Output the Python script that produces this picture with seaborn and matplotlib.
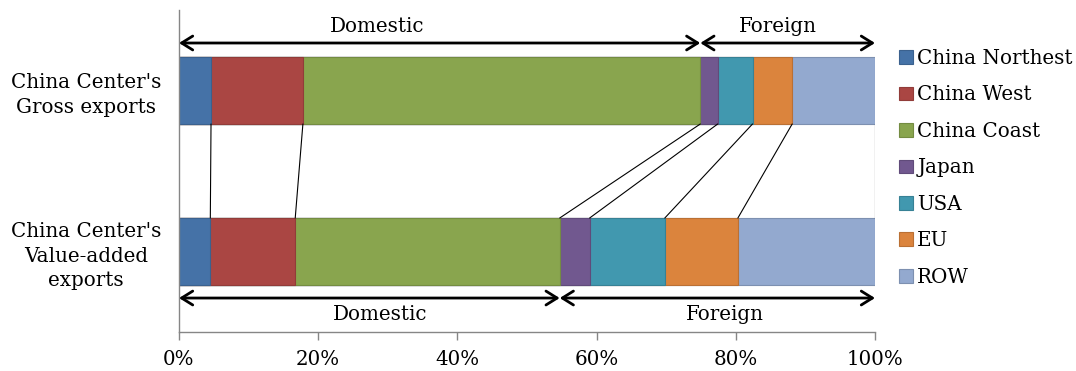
import matplotlib
matplotlib.use("Agg")
import matplotlib.pyplot as plt
import seaborn as sns
import pandas as pd
import numpy as np
from matplotlib.patches import Patch
from matplotlib.colors import to_rgb

categories = ["China Center's\nGross exports", "China Center's\nValue-added\nexports"]
series = ["China Northest", "China West", "China Coast", "Japan", "USA", "EU", "ROW"]
gross = [4.6, 13.2, 57.1, 2.5, 5.0, 5.7, 11.9]
value_added = [4.5, 12.2, 38.0, 4.3, 10.8, 10.5, 19.7]
colors = ["#4572A7", "#AA4643", "#89A54E", "#71588F", "#4198AF", "#DB843D", "#93A9CF"]
domestic_n = 3  # first three series are domestic
xticks = [0, 20, 40, 60, 80, 100]

sns.set_theme(style="white")
plt.rcParams["font.family"] = ["DejaVu Serif"]
plt.rcParams["text.color"] = "black"
plt.rcParams["xtick.labelcolor"] = "black"
plt.rcParams["ytick.labelcolor"] = "black"
FS = 14.3

fig = plt.figure(figsize=(10.76, 3.71), dpi=100)
ax = fig.add_axes([179/1076, 1 - 332/371, (875-179)/1076, 322/371])

cum_g = np.cumsum(gross)
cum_v = np.cumsum(value_added)

def darker(c, f=0.85):
    r, g, b = to_rgb(c)
    return (r*f, g*f, b*f)

H = 0.416
for i in reversed(range(len(series))):
    df = pd.DataFrame({"cat": categories, "val": [cum_g[i], cum_v[i]]})
    sns.barplot(data=df, x="val", y="cat", orient="h", color=colors[i],
                width=H, edgecolor=darker(colors[i]), linewidth=0.8,
                saturation=1, ax=ax)

ax.set_xlim(0, 100)
ax.set_ylim(1.5, -0.5)
ax.set_xlabel("")
ax.set_ylabel("")
ax.set_xticks(xticks)
ax.set_xticklabels([f"{t}%" for t in xticks], fontsize=FS, color="black")
for lab in ax.get_yticklabels():
    lab.set_multialignment("center")
    lab.set_horizontalalignment("center")
    lab.set_fontsize(FS)
    lab.set_linespacing(1.35)
    lab.set_color("black")
ax.tick_params(axis="y", length=0, pad=67)
ax.tick_params(axis="x", length=6, width=1, color="#868686", direction="out", pad=7)
ax.tick_params(axis="x", bottom=True)
for s in ["top", "right"]:
    ax.spines[s].set_visible(False)
for s in ["left", "bottom"]:
    ax.spines[s].set_color("#868686")
    ax.spines[s].set_linewidth(1)

# connector lines
y_top = 0 + H/2
y_bot = 1 - H/2
for a, b in zip(cum_g, cum_v):
    ax.plot([a, b], [y_top, y_bot], color="black", lw=0.8, zorder=1)

# arrows
def arrow(x0, x1, y):
    ax.annotate("", xy=(x1, y), xytext=(x0, y),
                arrowprops=dict(arrowstyle="<->,head_length=0.8,head_width=0.5",
                                lw=2, color="black", shrinkA=0, shrinkB=0,
                                mutation_scale=10),
                annotation_clip=False)

dg = cum_g[domestic_n-1]
dv = cum_v[domestic_n-1]
arrow(0, dg, -0.295)
arrow(dg, 100, -0.295)
arrow(0, dv, 1.289)
arrow(dv, 100, 1.289)
ax.text(28.5, -0.40, "Domestic", ha="center", va="center", fontsize=FS, color="black")
ax.text(86.0, -0.40, "Foreign", ha="center", va="center", fontsize=FS, color="black")
ax.text(28.9, 1.394, "Domestic", ha="center", va="center", fontsize=FS, color="black")
ax.text(78.4, 1.394, "Foreign", ha="center", va="center", fontsize=FS, color="black")

handles = [Patch(facecolor=c, edgecolor=darker(c), linewidth=0.8) for c in colors]
leg = fig.legend(handles, series, loc="upper left", bbox_to_anchor=(899/1076, 1 - 49/371),
                 frameon=False, fontsize=FS, handlelength=0.7, handleheight=0.7,
                 handletextpad=0.22, labelspacing=0.88, borderaxespad=0, borderpad=0)
for t in leg.get_texts():
    t.set_color("black")

fig.savefig("out.png", dpi=100)
